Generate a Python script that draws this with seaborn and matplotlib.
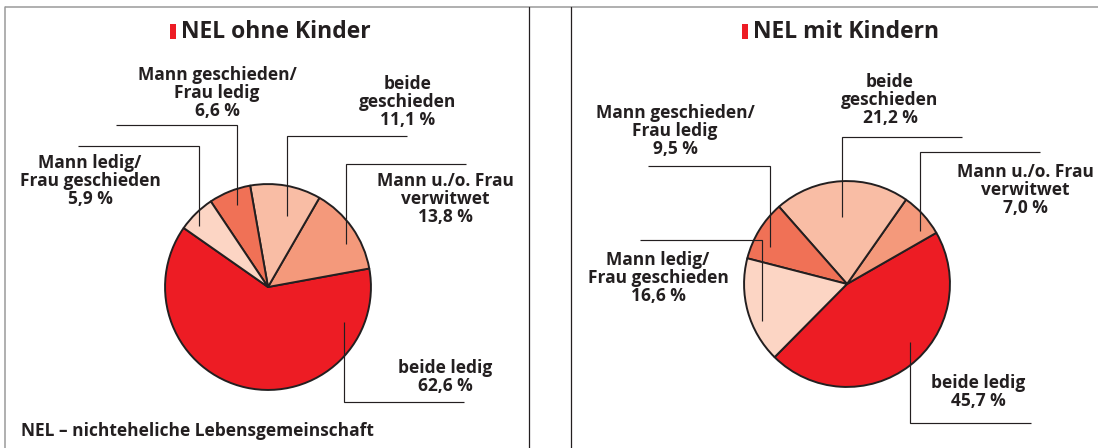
import matplotlib
matplotlib.use("Agg")
import matplotlib.pyplot as plt
import seaborn as sns
from matplotlib.patches import Rectangle

# ---------------- data ----------------
categories = [
    "beide ledig",
    "Mann u./o. Frau verwitwet",
    "beide geschieden",
    "Mann geschieden/Frau ledig",
    "Mann ledig/Frau geschieden",
]
label_names = [
    "beide ledig",
    "Mann u./o. Frau\nverwitwet",
    "beide\ngeschieden",
    "Mann geschieden/\nFrau ledig",
    "Mann ledig/\nFrau geschieden",
]
ohne_kinder = [62.6, 13.8, 11.1, 6.6, 5.9]
mit_kindern = [45.7, 7.0, 21.2, 9.5, 16.6]
titles = ["NEL ohne Kinder", "NEL mit Kindern"]
footnote = "NEL \u2013 nichteheliche Lebensgemeinschaft"

# ---------------- style / layout ----------------
colors = ["#ED1C24", "#F4997B", "#F9BDA5", "#F07156", "#FCD5C4"]
DARK = "#231F20"
W, H = 1098, 448

sns.set_theme(style="white")
plt.rcParams["font.family"] = ["Open Sans", "DejaVu Sans"]

panels = [
    dict(values=ohne_kinder, center=(268, 287), radius=105, start=145.0,
         title_center=270,
         labels=[(445, 377), (445, 199), (408, 102), (217, 93), (90, 181)],
         leaders=[[(343.5, 322), (343.5, 402), (464, 402)],
                  [(466, 164), (345.5, 164), (345.5, 244)],
                  [(407, 136), (287, 136), (287, 216)],
                  [(116, 125), (237, 125), (237, 205)],
                  [(78, 146), (199, 146), (199, 226)]]),
    dict(values=mit_kindern, center=(847, 284), radius=105, start=225.3,
         title_center=841,
         labels=[(978, 392), (1025, 190), (890, 100), (675, 131), (658, 278)],
         leaders=[[(910, 342), (910, 423), (1031, 423)],
                  [(1040, 152), (919.5, 152), (919.5, 231)],
                  [(962, 137), (841.5, 137), (841.5, 217)],
                  [(648, 166), (770, 166), (770, 247)],
                  [(640, 240), (761.5, 240), (761.5, 321)]]),
]

fig = plt.figure(figsize=(W / 100, H / 100), dpi=100)
fig.patch.set_facecolor("white")

# overlay axes in pixel coordinates (y downward)
ov = fig.add_axes([0, 0, 1, 1], zorder=3)
ov.set_xlim(0, W)
ov.set_ylim(H, 0)
ov.axis("off")
ov.patch.set_alpha(0)

# panel frames
ov.plot([4.7, W], [7.3, 7.3], color="#9A9A9A", lw=1.1, solid_capstyle="butt")
ov.plot([4.7, 4.7], [7.3, H], color="#9A9A9A", lw=1.1)
ov.plot([529.3, 529.3], [7.3, H], color=DARK, lw=0.9)
ov.plot([571, 571], [7.3, H], color=DARK, lw=0.9)

title_texts = []
for p, title in zip(panels, titles):
    cx, cy = p["center"]
    r = p["radius"]
    ax = fig.add_axes([(cx - r) / W, (H - cy - r) / H, 2 * r / W, 2 * r / H], zorder=1)
    ax.pie(p["values"], colors=colors, startangle=p["start"], counterclock=True,
           radius=1.0,
           wedgeprops=dict(edgecolor=DARK, linewidth=1.4, joinstyle="round"))
    ax.set_xlim(-1.02, 1.02)
    ax.set_ylim(-1.02, 1.02)
    ax.set_aspect("equal")
    ax.axis("off")

    for name, v, (lx, ly), pts in zip(label_names, p["values"], p["labels"], p["leaders"]):
        txt = name + "\n" + f"{v:.1f}".replace(".", ",") + " %"
        ov.text(lx, ly, txt, ha="center", va="center", fontsize=12.5,
                fontweight="bold", color=DARK, linespacing=1.02)
        xs, ys = zip(*pts)
        ov.plot(xs, ys, color=DARK, lw=0.85, solid_capstyle="butt",
                solid_joinstyle="miter")

    t = ov.text(p["title_center"], 32, title, ha="left", va="center", fontsize=16.5,
                fontweight="bold", color=DARK)
    title_texts.append((t, p["title_center"]))

ov.text(21, 431, footnote, ha="left", va="center", fontsize=12.5,
        fontweight="bold", color=DARK)

# center the (red bar + title) group over each pie
fig.canvas.draw()
renderer = fig.canvas.get_renderer()
for t, c in title_texts:
    w = t.get_window_extent(renderer).width
    bar_w, gap = 6, 5
    left = c - (bar_w + gap + w) / 2
    ov.add_patch(Rectangle((left, 24), bar_w, 15, color="#ED1C24", lw=0))
    t.set_x(left + bar_w + gap)

fig.savefig("out.png", dpi=100, facecolor="white")
